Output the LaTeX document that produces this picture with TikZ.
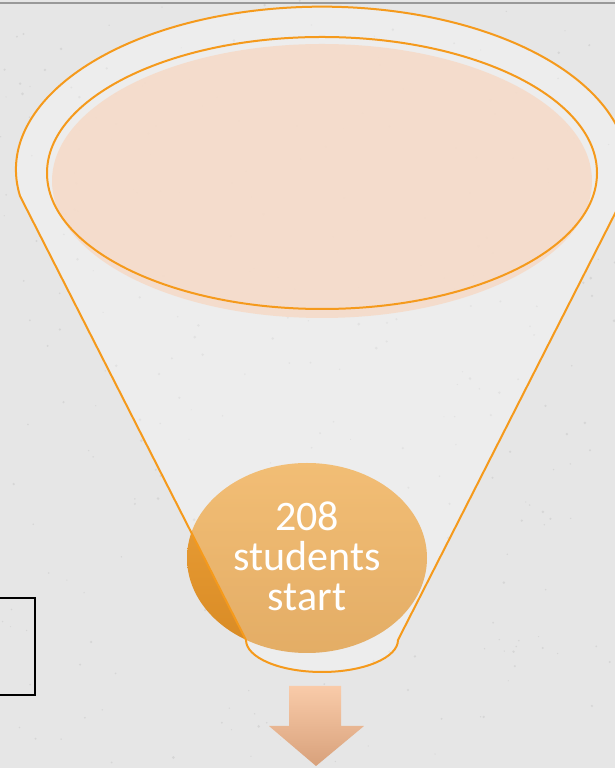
\documentclass[tikz,border=0pt]{standalone}
\usepackage{fontspec}
\usepackage{tikz}
\usetikzlibrary{
positioning,
calc
}
\setmainfont{Carlito}
\definecolor{FunOrange}{HTML}{F59A1C}
\definecolor{FunPeach}{HTML}{F6DAC7}
\definecolor{FunGold}{HTML}{EDA23A}
\definecolor{FunGoldDark}{HTML}{D88A24}
\definecolor{FunBG}{HTML}{E6E6E6}
\definecolor{FunArrowTop}{HTML}{F9CBA9}
\definecolor{FunArrowBot}{HTML}{D8A17B}
\tikzset{
funline/.style={draw=FunOrange, line width=2pt},
funfill/.style={fill=white, fill opacity=0.3},
funtext/.style={text=white, align=center, font=\fontsize{42}{40}\selectfont},
funarrow/.style={top color=FunArrowTop, bottom color=FunArrowBot, draw=none}
}
\begin{document}
\begin{tikzpicture}[x=1pt, y=1pt]
\useasboundingbox (0,0) rectangle (615,768);
\fill[FunBG] (0,0) rectangle (615,768);
% faint speckles of the backdrop
\pgfmathsetseed{7}
\foreach \k in {1,...,300}{
  \fill[gray!55, opacity=0.35] (rnd*615, rnd*768) circle (0.5+rnd);
}
\draw[gray!80, line width=1.2pt] (0,765) -- (615,765);

% orange start disc, behind the funnel
\shade[top color=FunGold, bottom color=FunGoldDark] (307,210) ellipse [x radius=120, y radius=95];

% funnel body
\path[funline, funfill]
  (20,572) arc [start angle=189.3, end angle=-9.3, x radius=306, y radius=163]
  -- (398,128)
  arc [start angle=0, end angle=-180, x radius=76, y radius=32]
  -- cycle;

% mouth of the funnel
\fill[FunPeach, opacity=0.85] (322,587) ellipse [x radius=270, y radius=137];
\draw[funline] (322,595) ellipse [x radius=275, y radius=136];

\node[funtext] (start) at (307,212) {208\\students\\start};

% box cut off at the left edge
\draw[black, line width=1.4pt] (-5,170) -- (35,170) -- (35,73) -- (-5,73);

% arrow below the funnel
\coordinate (tip) at (316,2);
\shade[funarrow] (289,82) -- (341,82) -- (341,42) -- (364,42) -- (tip) -- (269,42) -- (289,42) -- cycle;
\end{tikzpicture}
\end{document}
